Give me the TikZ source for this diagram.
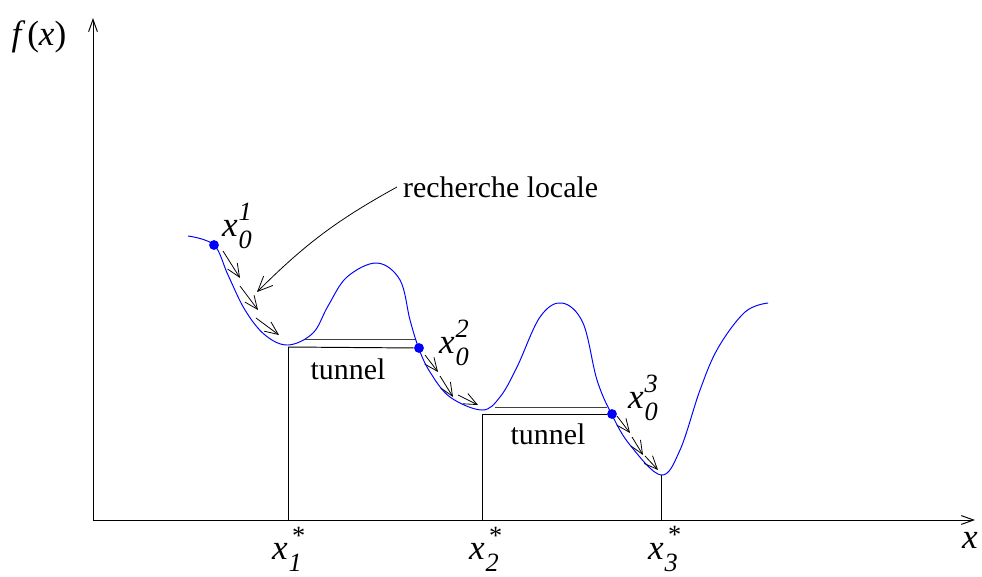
\documentclass[tikz,border=0pt]{standalone}
\usepackage{fontspec}
\setmainfont{Liberation Serif}
\usetikzlibrary{arrows.meta}
\newcommand{\idxfont}{\fontsize{15}{15}\selectfont}
\newcommand{\xsub}[2]{\textit{x}\kern0.5pt\makebox[0pt][l]{\raisebox{9pt}{\idxfont #2}}\raisebox{-6.5pt}{\idxfont\itshape #1}}
\tikzset{
  fcurve/.style={blue, line width=0.55pt},
  minpt/.style={circle, fill=blue, inner sep=0pt, minimum size=5.6pt},
  lsarrow/.style={-{Straight Barb[length=7.5pt,width=6.5pt]}, line width=0.45pt},
  axis/.style={-{Straight Barb[length=7pt,width=5pt]}, line width=0.55pt},
  lbl/.style={font=\fontsize{17}{20}\selectfont},
  mlbl/.style={font=\fontsize{20}{22}\selectfont},
}
\begin{document}
\begin{tikzpicture}[x=0.02cm, y=-0.02cm]
  \useasboundingbox (0,0) rectangle (982,576);
  % axes
  \coordinate (O) at (93,520);
  \coordinate (xend) at (975,520);
  \coordinate (yend) at (93,18);
  \draw[axis] (O) -- (yend);
  \draw[axis] (O) -- (xend);
  \node[mlbl] (fx) at (39,37) {\textit{f}\kern1pt(\textit{x})};
  \node[mlbl] (xx) at (970,540) {\textit{x}};
  % la fonction
  \draw[fcurve] plot[smooth, tension=0.6] coordinates {
    (188,236) (214,245) (228,275) (245,310) (265,335) (288,345)
    (313,333) (328,306) (347,277) (377,263) (400,280) (410,320)
    (419,349) (430,372) (450,397) (482,410) (500,397) (517,367)
    (540,317) (562,303) (583,323) (597,380) (612,415) (630,445)
    (661,475) (680,450) (700,390) (718,348) (745,312) (768,303)};
  % points de depart et minima
  \node[minpt] (s1) at (214,245) {};
  \node[minpt] (s2) at (419,348) {};
  \node[minpt] (s3) at (612,414) {};
  \coordinate (m1) at (288,347);
  \coordinate (m2) at (482,414);
  \coordinate (m3) at (661,475);
  \node[mlbl] (l1) at (237,226) {\xsub{0}{\textit{1}}};
  \node[mlbl] (l2) at (454,343) {\xsub{0}{\textit{2}}};
  \node[mlbl] (l3) at (643,398) {\xsub{0}{\textit{3}}};
  % tunnels
  \draw[line width=0.55pt] (m1) -- (s2);
  \draw[line width=0.55pt, black!75] (305,339) -- (415,339);
  \node[lbl] (t1) at (348,369) {tunnel};
  \draw[line width=0.55pt] (m2) -- (s3);
  \draw[line width=0.55pt, black!75] (495,407) -- (607,407);
  \node[lbl] (t2) at (548,434) {tunnel};
  % projections sur l'axe
  \draw[line width=0.5pt] (m1) -- (m1 |- O);
  \draw[line width=0.5pt] (m2) -- (m2 |- O);
  \draw[line width=0.5pt] (m3) -- (m3 |- O);
  \node[mlbl] (a1) at (287,549) {\xsub{1}{\kern2pt*}};
  \node[mlbl] (a2) at (484,549) {\xsub{2}{\kern2pt*}};
  \node[mlbl] (a3) at (663,549) {\xsub{3}{\kern2pt*}};
  % recherche locale
  \foreach \xa/\ya/\xb/\yb in {223/251/240/278, 240/286/258/310, 256/318/279/335,
                     425/355/438/372, 440/376/453/397, 458/395/478/405,
                     617/416/630/433, 632/437/643/455, 645/456/658/470}
    \draw[lsarrow] (\xa,\ya) -- (\xb,\yb);
  \node[lbl, anchor=west] (rl) at (397,187) {recherche locale};
  \coordinate (rltip) at (257,292);
  \draw[-{Straight Barb[length=8.5pt,width=7.5pt]}, line width=0.45pt] (rl.west) to[bend right=8] (rltip);
\end{tikzpicture}
\end{document}
